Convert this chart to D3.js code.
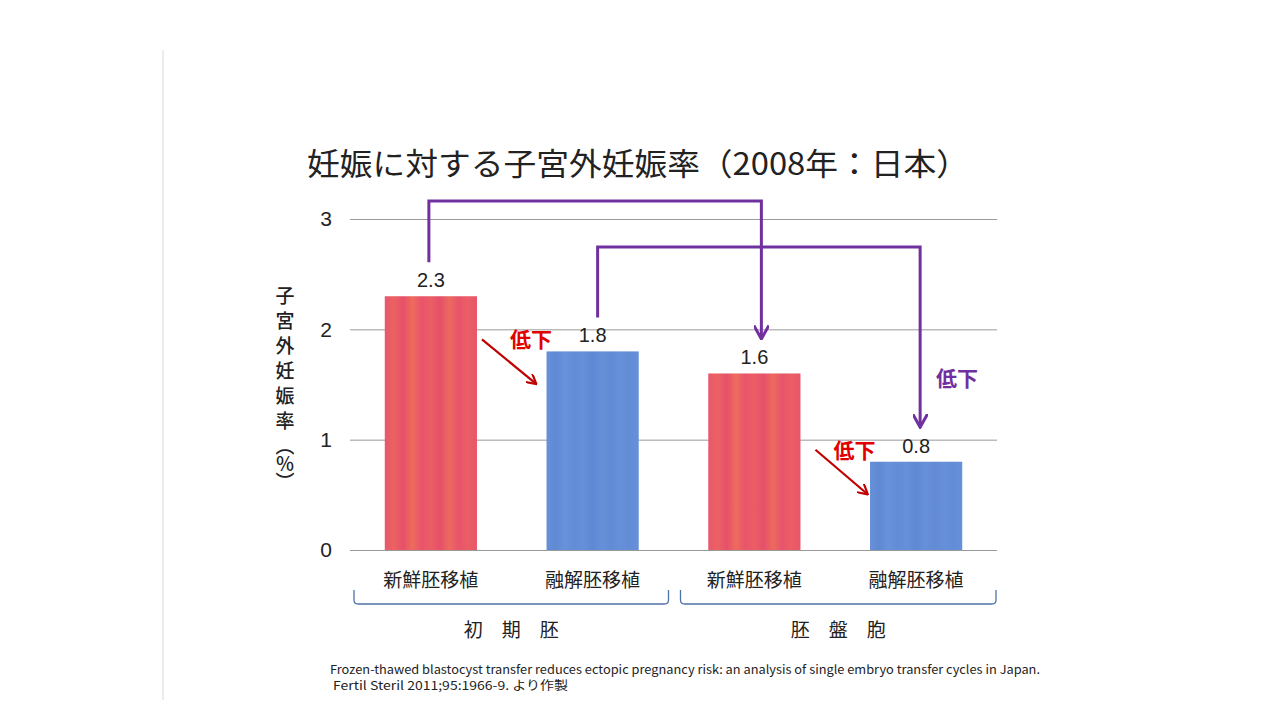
<!DOCTYPE html>
<html>
<head>
<meta charset="utf-8">
<script src="https://cdn.jsdelivr.net/npm/d3@7"></script>
<style>
  body { margin: 0; background: #fff; }
  svg { display: block; font-family: "Noto Sans CJK JP", "Noto Sans", sans-serif; }
</style>
</head>
<body>
<svg id="chart" width="1280" height="720"></svg>
<script>
// data
const categories = ["新鮮胚移植", "融解胚移植", "新鮮胚移植", "融解胚移植"];
const rates = [2.3, 1.8, 1.6, 0.8];
const barKinds = ["fresh", "thawed", "fresh", "thawed"];
const yTicks = [0, 1, 2, 3];
const groups = ["初　期　胚", "胚　盤　胞"];
const groupMembers = [[0, 1], [2, 3]];
// purple comparisons: [from index, to index]
const purpleLinks = [[0, 2], [1, 3]];
const redLinks = [[0, 1], [2, 3]];
const yLabelMain = "子宮外妊娠率";
const yLabelUnit = "（％）";

const svg = d3.select("#chart");

// faint scanned page edge
svg.append("line")
    .attr("x1", 163).attr("x2", 163).attr("y1", 50).attr("y2", 700)
    .attr("stroke", "#e6e6e6").attr("stroke-width", 1.5);

// Scales
const xScale = d3.scaleBand()
    .domain(d3.range(categories.length))
    .range([350, 997])
    .paddingInner(0.43)
    .paddingOuter(0.215);
const yScale = d3.scaleLinear()
    .domain([0, 3])
    .range([550, 219]);

// streaky fills
const defs = svg.append("defs");
const streaks = {
    fresh: ["#e9566c", "#ec6262", "#e6506a", "#ee6c5c", "#e9546c", "#eb5e64", "#e5506a", "#ed6a5e", "#e8546c", "#ea5e64", "#e9566a"],
    thawed: ["#6690d8", "#6089d4", "#6892da", "#628cd6", "#6690d8", "#5e88d3", "#6690d8", "#628bd5", "#6690d8", "#628cd6", "#6690d8"]
};
Object.keys(streaks).forEach(k => {
    const g = defs.append("linearGradient").attr("id", "grad-" + k)
        .attr("x1", 0).attr("x2", 1).attr("y1", 0).attr("y2", 0);
    streaks[k].forEach((c, i) => {
        g.append("stop").attr("offset", i / (streaks[k].length - 1)).attr("stop-color", c);
    });
});
const arrowDefs = [["arrow-purple", "#7030a0"], ["arrow-red", "#c00000"]];
arrowDefs.forEach(([id, col]) => {
    defs.append("marker").attr("id", id)
        .attr("viewBox", "0 0 10 10").attr("refX", 8).attr("refY", 5)
        .attr("markerWidth", 5).attr("markerHeight", 5).attr("orient", "auto")
        .append("path").attr("d", "M0,0 L9,5 L0,10")
        .attr("fill", "none").attr("stroke", col).attr("stroke-width", 2);
});

// title
svg.append("text")
    .attr("x", 307).attr("y", 175)
    .attr("font-size", 31).attr("fill", "#222")
    .attr("textLength", 662).attr("lengthAdjust", "spacingAndGlyphs")
    .text("妊娠に対する子宮外妊娠率（2008年：日本）");

// gridlines + tick labels
const yAxis = d3.axisLeft(yScale).tickValues(yTicks).tickSize(-647).tickFormat(d3.format("d"));
const axisG = svg.append("g").attr("transform", "translate(350,0)").call(yAxis);
axisG.select(".domain").remove();
axisG.selectAll(".tick line").attr("stroke", "#9a9a9a").attr("stroke-width", 1);
axisG.selectAll(".tick text")
    .attr("x", -24).attr("text-anchor", "middle")
    .attr("font-size", 21).attr("fill", "#222")
    .attr("font-family", "Liberation Sans, sans-serif");

// y label (vertical)
const yLab = svg.append("text")
    .attr("x", 285).attr("y", 286)
    .style("writing-mode", "vertical-rl")
    .attr("font-size", 19).attr("font-weight", 500).attr("fill", "#222");
yLab.append("tspan").attr("letter-spacing", 6).text(yLabelMain);
yLab.append("tspan").attr("letter-spacing", -1).text(yLabelUnit);

// bars
svg.append("g").selectAll("rect").data(rates).enter().append("rect")
    .attr("x", (d, i) => xScale(i))
    .attr("y", d => yScale(d))
    .attr("width", xScale.bandwidth())
    .attr("height", d => yScale(0) - yScale(d))
    .attr("fill", (d, i) => "url(#grad-" + barKinds[i] + ")");

// value labels
svg.append("g").selectAll("text").data(rates).enter().append("text")
    .attr("x", (d, i) => xScale(i) + xScale.bandwidth() / 2)
    .attr("y", d => yScale(d) - 9)
    .attr("text-anchor", "middle")
    .attr("font-size", 20).attr("fill", "#222")
    .attr("font-family", "Liberation Sans, sans-serif")
    .text(d => d.toFixed(1));

// category labels
svg.append("g").selectAll("text").data(categories).enter().append("text")
    .attr("x", (d, i) => xScale(i) + xScale.bandwidth() / 2)
    .attr("y", 587)
    .attr("text-anchor", "middle")
    .attr("font-size", 19).attr("fill", "#222")
    .text(d => d);

// group brackets
const step = xScale.step();
const bracketInset = [[4, 5], [7, 1]];
groupMembers.forEach((m, gi) => {
    const gap = (step - xScale.bandwidth()) / 2;
    const left = xScale(m[0]) - gap + bracketInset[gi][0];
    const right = xScale(m[1]) + xScale.bandwidth() + gap - bracketInset[gi][1];
    svg.append("path")
        .attr("d", `M${left},590 L${left},600 Q${left},604 ${left + 4},604 L${right - 4},604 Q${right},604 ${right},600 L${right},590`)
        .attr("fill", "none").attr("stroke", "#4f72a8").attr("stroke-width", 1.3);
    svg.append("text")
        .attr("x", (left + right) / 2).attr("y", 637)
        .attr("text-anchor", "middle")
        .attr("font-size", 19).attr("fill", "#222")
        .text(groups[gi]);
});

// purple comparison connectors
const purpleTop = [201, 247];
const purpleOffset = [-2, 5];
const purpleEndOffset = [7, 4];
purpleLinks.forEach(([a, b], i) => {
    const xa = xScale(a) + xScale.bandwidth() / 2 + purpleOffset[i];
    const xb = xScale(b) + xScale.bandwidth() / 2 + purpleEndOffset[i];
    const ya = yScale(rates[a]) - 34;
    const yb = yScale(rates[b]) - 36;
    svg.append("path")
        .attr("d", `M${xa},${ya} L${xa},${purpleTop[i]} L${xb},${purpleTop[i]} L${xb},${yb}`)
        .attr("fill", "none").attr("stroke", "#7030a0").attr("stroke-width", 3)
        .attr("stroke-linejoin", "miter")
        .attr("marker-end", "url(#arrow-purple)");
});
svg.append("text")
    .attr("x", 957).attr("y", 386)
    .attr("text-anchor", "middle")
    .attr("font-size", 21).attr("font-weight", 700).attr("fill", "#7030a0")
    .text("低下");

// red decrease arrows (start / end offsets from the bars)
const redStart = [5, 15];
const redEnd = [11, 3];
redLinks.forEach(([a, b], i) => {
    const x1 = xScale(a) + xScale.bandwidth() + redStart[i];
    const x2 = xScale(b) - redEnd[i];
    const y1 = yScale(rates[b]) - 12;
    const y2 = y1 + 44;
    svg.append("line")
        .attr("x1", x1).attr("y1", y1).attr("x2", x2).attr("y2", y2)
        .attr("stroke", "#c00000").attr("stroke-width", 2.2)
        .attr("marker-end", "url(#arrow-red)");
    svg.append("text")
        .attr("x", x1 + 49 - redStart[i] + 5).attr("y", y1 + 8)
        .attr("text-anchor", "middle")
        .attr("font-size", 21).attr("font-weight", 700).attr("fill", "#e00000")
        .text("低下");
});

// reference
svg.append("text")
    .attr("x", 330).attr("y", 674)
    .attr("font-size", 12).attr("fill", "#222")
    .attr("textLength", 710).attr("lengthAdjust", "spacingAndGlyphs")
    .text("Frozen-thawed blastocyst transfer   reduces ectopic pregnancy risk: an analysis of single embryo transfer  cycles in Japan.");
svg.append("text")
    .attr("x", 333).attr("y", 690)
    .attr("font-size", 12).attr("fill", "#222")
    .attr("textLength", 235).attr("lengthAdjust", "spacingAndGlyphs")
    .text("Fertil Steril 2011;95:1966-9.  より作製");
</script>
</body>
</html>
